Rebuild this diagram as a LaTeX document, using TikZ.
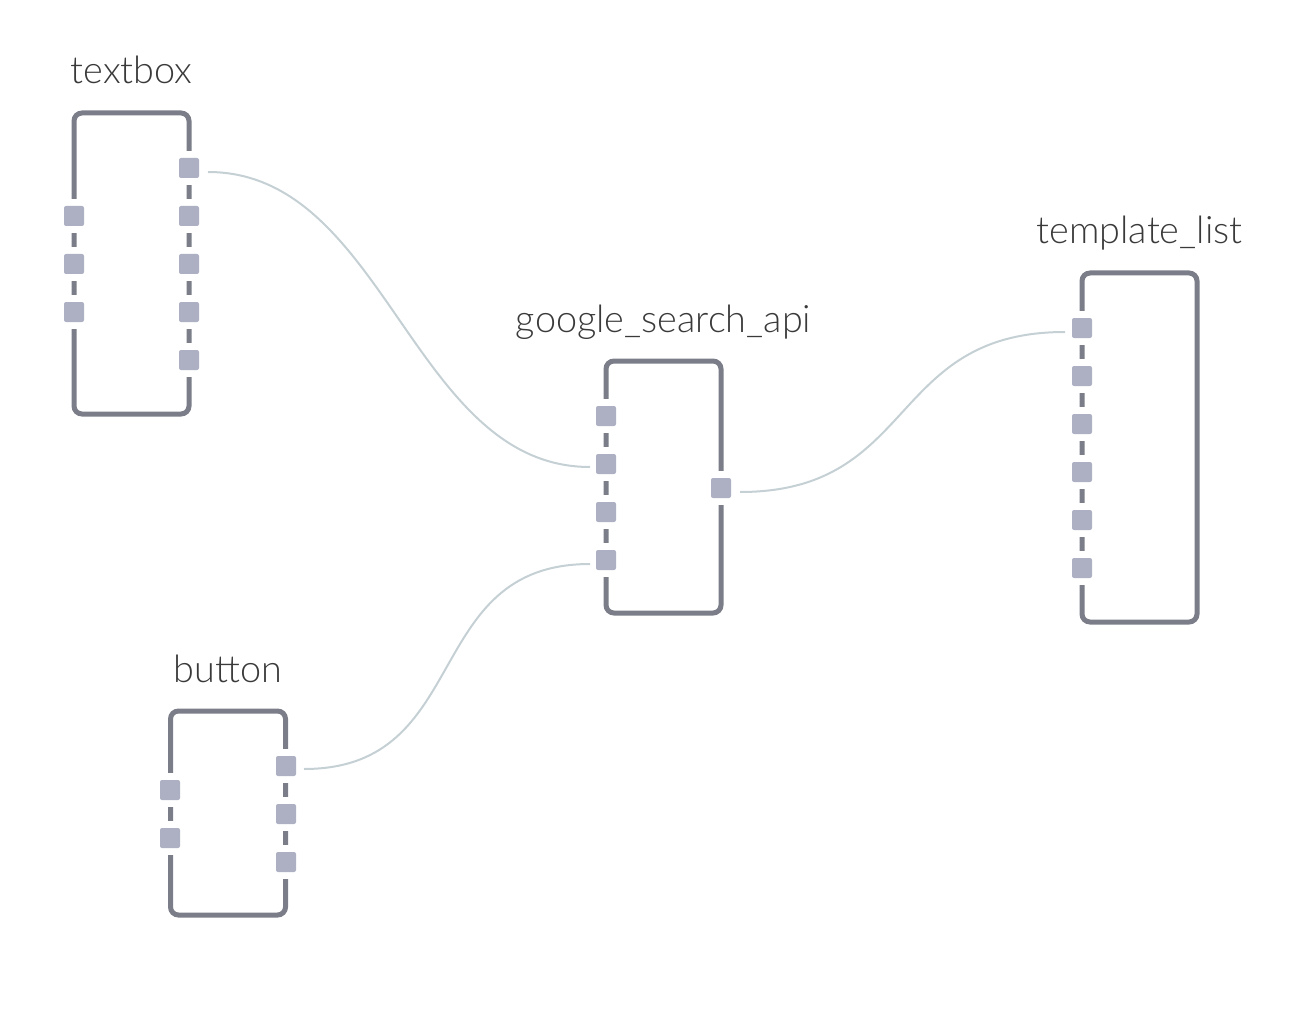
\documentclass[tikz,border=0pt]{standalone}
\usepackage{fontspec}
\setmainfont{Lato}[UprightFont=* Light]
\usetikzlibrary{backgrounds}
\definecolor{boxc}{HTML}{7B7E89}
\definecolor{portc}{HTML}{ADB0C2}
\definecolor{wirec}{HTML}{C5D0D4}
\definecolor{txtc}{HTML}{3A3A3A}
\tikzset{
  box/.style={draw=boxc, line width=5pt, rounded corners=8pt, rectangle, minimum width=115pt, inner sep=0pt, outer sep=0pt},
  port/.style={rectangle, minimum size=34pt, inner sep=0pt, fill=white,
    path picture={\fill[portc, rounded corners=2pt] ([shift={(-10pt,-10pt)}]path picture bounding box.center) rectangle ([shift={(10pt,10pt)}]path picture bounding box.center);}},
  lbl/.style={anchor=base, text=txtc, font=\fontsize{37.8pt}{44pt}\selectfont, inner sep=0pt},
  wire/.style={draw=wirec, line width=2pt}
}
\begin{document}
\begin{tikzpicture}[x=1pt,y=-1pt]
\useasboundingbox (0,0) rectangle (1314,1024);
% textbox
\node[box, minimum height=301pt] (tb) at (131.5,263.5) {};
\node[lbl] (tbl) at (131.5,84) {textbox};
\node[port] (tbi1) at (74,216) {};
\node[port] (tbi2) at (74,264) {};
\node[port] (tbi3) at (74,312) {};
\node[port] (tbo1) at (189,168) {};
\node[port] (tbo2) at (189,216) {};
\node[port] (tbo3) at (189,264) {};
\node[port] (tbo4) at (189,312) {};
\node[port] (tbo5) at (189,360) {};
% google_search_api
\node[box, minimum height=252pt] (gs) at (663.5,487) {};
\node[lbl] (gsl) at (663.5,332) {google\_search\_api};
\node[port] (gsi1) at (606,416) {};
\node[port] (gsi2) at (606,464) {};
\node[port] (gsi3) at (606,512) {};
\node[port] (gsi4) at (606,560) {};
\node[port] (gso1) at (721,488) {};
% template_list
\node[box, minimum height=349pt] (tl) at (1139.5,447.5) {};
\node[lbl] (tll) at (1139.5,244) {template\_list};
\node[port] (tli1) at (1082,328) {};
\node[port] (tli2) at (1082,376) {};
\node[port] (tli3) at (1082,424) {};
\node[port] (tli4) at (1082,472) {};
\node[port] (tli5) at (1082,520) {};
\node[port] (tli6) at (1082,568) {};
% button
\node[box, minimum height=204pt] (bt) at (228,813) {};
\node[lbl] (btl) at (228,682) {button};
\node[port] (bti1) at (170,790) {};
\node[port] (bti2) at (170,838) {};
\node[port] (bto1) at (286,766) {};
\node[port] (bto2) at (286,814) {};
\node[port] (bto3) at (286,862) {};
% wires
\draw[wire] ([shift={(19,4)}]tbo1.center) .. controls +(178,0) and +(-178,0) .. ([shift={(-16,3)}]gsi2.center);
\draw[wire] ([shift={(18,3)}]bto1.center) .. controls +(170,0) and +(-170,0) .. ([shift={(-16,4)}]gsi4.center);
\draw[wire] ([shift={(19,4)}]gso1.center) .. controls +(178,0) and +(-178,0) .. ([shift={(-17,4)}]tli1.center);
\end{tikzpicture}
\end{document}
